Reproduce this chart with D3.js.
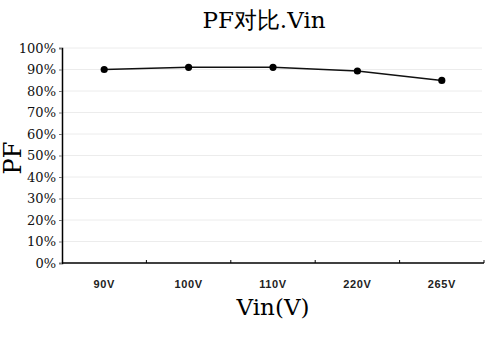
<html>
<head>
<meta charset="utf-8">
<script src="https://d3js.org/d3.v7.min.js"></script>
<style>
  body { margin: 0; background: white; }
  .ylab text { font-family: "DejaVu Serif", serif; font-size: 13px; fill: #111; }
  .xlab text { font-family: "Liberation Sans", Arial, sans-serif; font-weight: bold; font-size: 11px; letter-spacing: 0.6px; fill: #222; }
</style>
</head>
<body>
<div id="graph"></div>
<script>
  // categories and PF values
  const vin = ['90V', '100V', '110V', '220V', '265V'];
  const pf = [0.90, 0.91, 0.91, 0.893, 0.849];
  const yTicks = [0, 0.1, 0.2, 0.3, 0.4, 0.5, 0.6, 0.7, 0.8, 0.9, 1.0];

  var margin = {top: 48, right: 16, bottom: 76, left: 62},
    width = 500 - margin.left - margin.right,
    height = 339 - margin.top - margin.bottom;

  var root = d3.select('#graph').append('svg')
    .attr('width', 500).attr('height', 339);

  var svg = root.append('g')
    .attr('transform', 'translate(' + margin.left + ',' + margin.top + ')');

  var x = d3.scaleBand().domain(vin).range([0, width]);
  var y = d3.scaleLinear().domain([0, 1]).range([height, 0]);

  // gridlines
  svg.append('g')
    .selectAll('line')
    .data(yTicks.slice(1))
    .enter().append('line')
    .attr('x1', 0).attr('x2', width - 2)
    .attr('y1', d => y(d)).attr('y2', d => y(d))
    .style('stroke', '#ececec');

  // y axis
  var yAxis = svg.append('g').attr('class', 'ylab')
    .call(d3.axisLeft(y).tickValues(yTicks).tickFormat(d3.format('.0%')).tickSize(3).tickPadding(3));
  yAxis.select('.domain').style('stroke', '#000').style('stroke-width', 1.5);
  yAxis.selectAll('.tick line').style('stroke', '#777');

  // x axis, ticks at band edges pointing inward
  var xAxis = svg.append('g')
    .attr('transform', 'translate(0,' + height + ')');
  xAxis.append('line')
    .attr('x1', 0).attr('x2', width)
    .style('stroke', '#000').style('stroke-width', 1.5);
  xAxis.selectAll('.edge')
    .data(vin)
    .enter().append('line')
    .attr('class', 'edge')
    .attr('x1', d => x(d) + x.bandwidth()).attr('x2', d => x(d) + x.bandwidth())
    .attr('y1', 0).attr('y2', -3)
    .style('stroke', '#000');
  xAxis.append('g').attr('class', 'xlab')
    .selectAll('text')
    .data(vin)
    .enter().append('text')
    .attr('x', d => x(d) + x.bandwidth() / 2)
    .attr('y', 25)
    .attr('text-anchor', 'middle')
    .text(d => d);

  // line
  var line = d3.line()
    .x((d, i) => x(vin[i]) + x.bandwidth() / 2)
    .y(d => y(d));
  svg.append('path')
    .datum(pf)
    .attr('d', line)
    .style('fill', 'none')
    .style('stroke', '#111')
    .style('stroke-width', 1.5);

  svg.append('g')
    .selectAll('circle')
    .data(pf)
    .enter().append('circle')
    .attr('cx', (d, i) => x(vin[i]) + x.bandwidth() / 2)
    .attr('cy', d => y(d))
    .attr('r', 3.6)
    .style('fill', '#000');

  // titles
  root.append('text')
    .attr('x', 264).attr('y', 28)
    .attr('text-anchor', 'middle')
    .style('font-family', '"DejaVu Serif", serif')
    .style('font-size', '23px')
    .text('PF对比.Vin');

  root.append('text')
    .attr('x', margin.left + width / 2).attr('y', 315)
    .attr('text-anchor', 'middle')
    .style('font-family', '"DejaVu Serif", serif')
    .style('font-size', '23px')
    .text('Vin(V)');

  root.append('text')
    .attr('transform', 'translate(21,158) rotate(-90)')
    .attr('text-anchor', 'middle')
    .style('font-family', '"DejaVu Serif", serif')
    .style('font-size', '24px')
    .text('PF');
</script>
</body>
</html>
